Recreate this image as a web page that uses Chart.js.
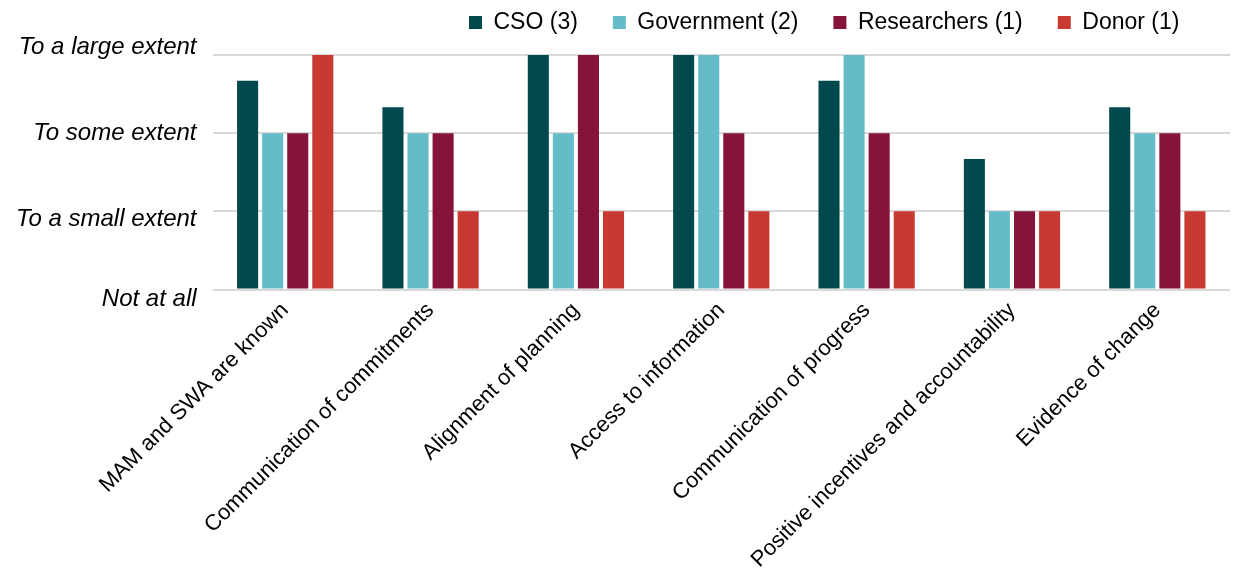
<!DOCTYPE html>
<html>
<head>
<meta charset="utf-8">
<script src="https://cdn.jsdelivr.net/npm/chart.js@4/dist/chart.umd.min.js"></script>
<style>
  html, body { margin: 0; padding: 0; background: #fff; }
  #wrap { width: 1235px; height: 571px; }
</style>
</head>
<body>
<div id="wrap"><canvas id="Chart"></canvas></div>
<script>
// categories along the x axis
var categories = [
  "MAM and SWA are known",
  "Communication of commitments",
  "Alignment of planning",
  "Access to information",
  "Communication of progress",
  "Positive incentives and accountability",
  "Evidence of change"
];
// answer scale (0..3)
var scaleLabels = ["Not at all", "To a small extent", "To some extent", "To a large extent"];

// mean scores per group
var cso         = [2.67, 2.33, 3, 3, 2.67, 1.67, 2.33];
var government  = [2, 2, 2, 3, 3, 1, 2];
var researchers = [2, 2, 3, 2, 2, 1, 2];
var donor       = [3, 1, 1, 1, 1, 1, 1];

var seriesNames  = ["CSO (3)", "Government (2)", "Researchers (1)", "Donor (1)"];
var seriesColors = ["#02494d", "#65bcc8", "#85133a", "#c83a31"];

// the y labels in the original sit a bit off their gridlines (px, + = down)
var labelShift = [10, 8, 0, -8];

// legend placement (the original legend is pushed to the right)
var legendX = 469, legendTop = 11, legendGap = 35;

Chart.defaults.font.family = "'Liberation Sans', Arial, sans-serif";
Chart.defaults.color = "#000";

var legendPlacer = {
  id: 'legendPlacer',
  beforeDraw: function(chart) {
    var lg = chart.legend;
    if (!lg) return;
    var labels = Object.create(lg.options.labels);
    labels.padding = legendGap;
    var opts = Object.create(lg.options);
    opts.labels = labels;
    lg.options = opts;
    lg.left = legendX - legendGap;
    lg.right = chart.width * 2;
    lg.top = legendTop - legendGap;
  }
};

var values = [cso, government, researchers, donor];
var datasets = [];
for (var i = 0; i < values.length; i++) {
  datasets.push({
    label: seriesNames[i],
    data: values[i],
    backgroundColor: seriesColors[i],
    borderWidth: 0,
    barPercentage: 0.84,
    categoryPercentage: 0.69
  });
}

var ctx = document.getElementById("Chart");
var newChart = new Chart(ctx, {
  type: 'bar',
  data: { labels: categories, datasets: datasets },
  plugins: [legendPlacer],
  options: {
    responsive: true,
    maintainAspectRatio: false,
    animation: false,
    layout: { padding: { left: 0, right: 5, top: 8, bottom: 0 } },
    plugins: {
      tooltip: { enabled: false },
      legend: {
        position: 'top',
        align: 'start',
        labels: {
          font: { size: 23 },
          boxWidth: 13,
          boxHeight: 13,
          padding: 14
        }
      }
    },
    scales: {
      x: {
        grid: { display: false, drawTicks: false },
        border: { display: false },
        ticks: {
          font: { size: 22 },
          minRotation: 45,
          maxRotation: 45,
          padding: 8
        }
      },
      y: {
        min: 0,
        max: 3,
        grid: { color: "#d9d9d9", lineWidth: 2, drawTicks: false },
        border: { display: false },
        ticks: {
          stepSize: 1,
          padding: 16,
          font: function(c) {
            var s = Math.abs(labelShift[c.index] || 0);
            return { size: 24, style: 'italic', lineHeight: s ? (2 * s) + 'px' : 1.2 };
          },
          callback: function(v) {
            var s = labelShift[v];
            if (s > 0) return ["", scaleLabels[v]];
            if (s < 0) return [scaleLabels[v], ""];
            return scaleLabels[v];
          }
        }
      }
    }
  }
});
</script>
</body>
</html>
